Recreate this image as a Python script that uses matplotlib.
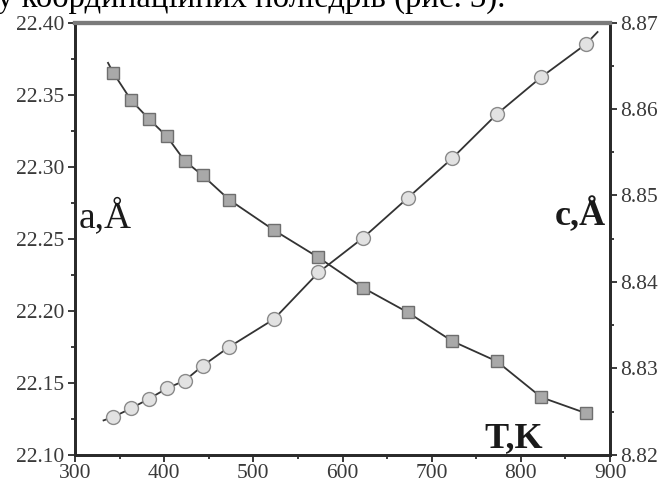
import matplotlib.pyplot as plt
from matplotlib.ticker import MultipleLocator, FormatStrFormatter

# Temperature points (K)
temps = [343, 363, 383, 403, 423, 443, 473, 523, 573, 623, 673, 723, 773, 823, 873]

# Lattice parameter a (left axis), squares
a_values = [22.365, 22.346, 22.333, 22.321, 22.304, 22.294, 22.277, 22.256,
            22.237, 22.216, 22.199, 22.179, 22.165, 22.140, 22.129]

# Lattice parameter c (right axis), circles
c_values = [8.8244, 8.8254, 8.8265, 8.8277, 8.8286, 8.8303, 8.8325, 8.8357,
            8.8411, 8.8451, 8.8497, 8.8543, 8.8594, 8.8637, 8.8675]

# Ends of the drawn fit lines
a_line_start = (337, 22.372)
c_line_start = (332, 8.8240)
c_line_end = (886, 8.8689)

top_text = "у координаційних поліедрів (рис. 3)."

SERIF = ["Liberation Serif", "DejaVu Serif"]
LINE_COLOR = "#333333"
TICK_COLOR = "#3a3a3a"


def style_axis(ax):
    ax.tick_params(axis="both", which="major", direction="out", length=5,
                   width=1.4, colors=TICK_COLOR, labelsize=15.5, pad=2.5)
    ax.tick_params(axis="both", which="minor", direction="out", length=3,
                   width=1.4, colors=TICK_COLOR)
    for label in ax.get_xticklabels() + ax.get_yticklabels():
        label.set_fontfamily(SERIF)


def main():
    fig = plt.figure(figsize=(6.64, 4.86), dpi=100)
    ax = fig.add_axes([0.113, 0.0638, 0.8057, 0.8899])
    ax2 = ax.twinx()

    # a(T): squares on the left axis
    a_x = [a_line_start[0]] + temps
    a_y = [a_line_start[1]] + a_values
    ax.plot(a_x, a_y, color=LINE_COLOR, lw=1.3, zorder=2)
    ax.plot(temps, a_values, ls="none", marker="s", ms=8.5,
            mfc="#a9a9a9", mec="#6e6e6e", mew=1.0, zorder=3)

    # c(T): circles on the right axis
    c_x = [c_line_start[0]] + temps + [c_line_end[0]]
    c_y = [c_line_start[1]] + c_values + [c_line_end[1]]
    ax2.plot(c_x, c_y, color=LINE_COLOR, lw=1.3, zorder=2)
    ax2.plot(temps, c_values, ls="none", marker="o", ms=10,
             mfc="#e2e2e2", mec="#8a8a8a", mew=1.0, zorder=3)

    ax.set_xlim(300, 900)
    ax.set_ylim(22.10, 22.40)
    ax2.set_ylim(8.82, 8.87)

    ax.xaxis.set_major_locator(MultipleLocator(100))
    ax.xaxis.set_minor_locator(MultipleLocator(50))
    ax.yaxis.set_major_locator(MultipleLocator(0.05))
    ax.yaxis.set_minor_locator(MultipleLocator(0.025))
    ax.yaxis.set_major_formatter(FormatStrFormatter("%.2f"))
    ax2.yaxis.set_major_locator(MultipleLocator(0.01))
    ax2.yaxis.set_minor_locator(MultipleLocator(0.005))
    ax2.yaxis.set_major_formatter(FormatStrFormatter("%.2f"))

    style_axis(ax)
    style_axis(ax2)
    ax.tick_params(axis="x", pad=1.5)

    for a in (ax, ax2):
        for side in ("left", "bottom", "right"):
            a.spines[side].set_linewidth(2)
            a.spines[side].set_color("#2a2a2a")
        a.spines["top"].set_linewidth(3)
        a.spines["top"].set_color("#7a7a7a")

    ax.text(0.006, 0.527, "a,Å", transform=ax.transAxes, fontsize=27,
            family=SERIF, color="#1a1a1a", ha="left", va="baseline")
    ax.text(0.992, 0.532, "c,Å", transform=ax.transAxes, fontsize=26,
            family=SERIF, weight="bold", color="#1a1a1a", ha="right", va="baseline")
    ax.text(0.874, 0.0185, "T,K", transform=ax.transAxes, fontsize=26,
            family=SERIF, weight="bold", color="#1a1a1a", ha="right", va="baseline")

    # Line of body text cut off by the top edge of the picture
    fig.text(-0.005, 1 - 7 / 486, top_text, fontsize=23.6, family=SERIF,
             ha="left", va="baseline", color="black")

    fig.savefig("out.png", dpi=100)


if __name__ == "__main__":
    main()
